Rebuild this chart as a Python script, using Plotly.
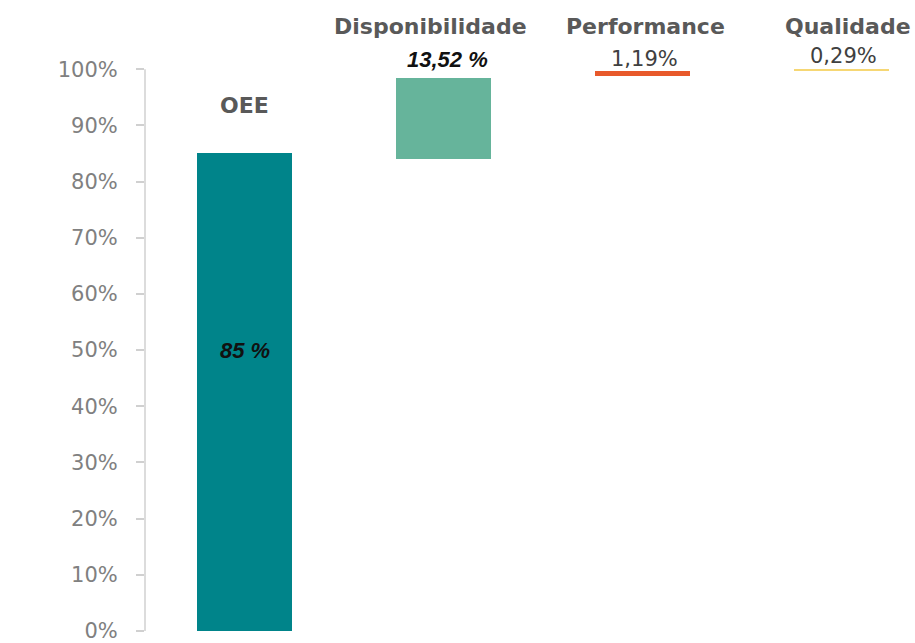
import plotly.graph_objects as go

categories = ["OEE", "Disponibilidade", "Performance", "Qualidade"]
bar_base = [0, 84.1, 98.7, 99.6]
bar_top = [85, 98.5, 99.6, 100.0]
value_labels = ["85 %", "13,52 %", "1,19%", "0,29%"]
bar_colors = ["#00848A", "#66B49B", "#E8592B", "#F6D774"]
tick_vals = [0, 10, 20, 30, 40, 50, 60, 70, 80, 90, 100]
tick_text = ["0%", "10%", "20%", "30%", "40%", "50%", "60%", "70%", "80%", "90%", "100%"]

x_pos = list(range(len(categories)))
heights = [t - b for t, b in zip(bar_top, bar_base)]

fig = go.Figure()
fig.add_trace(go.Bar(
    x=x_pos, y=heights, base=bar_base,
    marker=dict(color=bar_colors, line=dict(width=0)),
    width=0.477, hoverinfo="skip", showlegend=False,
))

# axis line from 0% to 100%
fig.add_shape(type="line", xref="paper", x0=0, x1=0, yref="y", y0=0, y1=100,
              line=dict(color="#D0D0D0", width=1.5))

title_font = dict(family="DejaVu Sans", size=22, color="#595959")
# category titles
fig.add_annotation(x=0, y=93.6, text="<b>OEE</b>", showarrow=False, font=title_font)
fig.add_annotation(x=1, y=107.6, text="<b>Disponibilidade</b>", showarrow=False, font=title_font, xshift=-13)
fig.add_annotation(x=2, y=107.6, text="<b>Performance</b>", showarrow=False, font=title_font, xshift=3)
fig.add_annotation(x=3, y=107.6, text="<b>Qualidade</b>", showarrow=False, font=title_font, xshift=6)

# value labels
vfont_bi = dict(family="Liberation Sans", size=22, color="#111111")
fig.add_annotation(x=0, y=50, text="<b><i>" + value_labels[0] + "</i></b>", showarrow=False, font=vfont_bi)
fig.add_annotation(x=1, y=101.8, text="<b><i>" + value_labels[1] + "</i></b>", showarrow=False, font=vfont_bi, xshift=4)
vfont = dict(family="DejaVu Sans", size=21, color="#404040")
fig.add_annotation(x=2, y=101.9, text=value_labels[2], showarrow=False, font=vfont, xshift=2)
fig.add_annotation(x=3, y=102.3, text=value_labels[3], showarrow=False, font=vfont, xshift=2)

fig.update_layout(
    width=915, height=643,
    margin=dict(l=145, r=0, t=13, b=12, pad=0),
    paper_bgcolor="white", plot_bgcolor="white",
    bargap=0,
    xaxis=dict(range=[-0.5, 3.369], visible=False, fixedrange=True),
    yaxis=dict(range=[0, 110], tickvals=tick_vals, ticktext=tick_text,
               ticks="outside", ticklen=8, tickcolor="#D0D0D0", tickwidth=1.5,
               showgrid=False, zeroline=False, showline=False,
               ticklabelstandoff=14, ticklabeloverflow="allow",
               tickfont=dict(family="DejaVu Sans", size=21, color="#808080")),
)

fig.write_html("out.html")
